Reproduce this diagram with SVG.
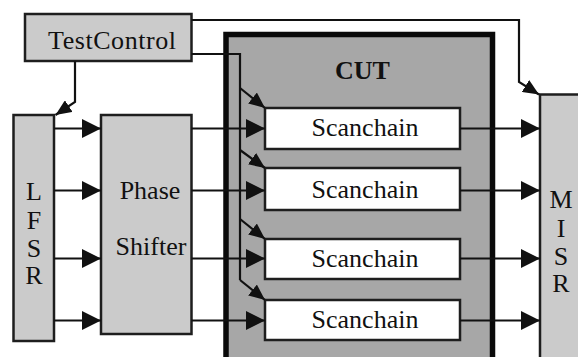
<svg xmlns="http://www.w3.org/2000/svg" width="578" height="357" viewBox="0 0 578 357">
  <defs>
    <style>
      .blk { fill: #cbcbcb; stroke: #1e1e1e; stroke-width: 2.5; }
      .chain { fill: #ffffff; stroke: #1e1e1e; stroke-width: 2.5; }
      .cut { fill: #a7a7a7; stroke: #0a0a0a; stroke-width: 5.5; }
      .lbl { font-family: "Liberation Serif", "Times New Roman", serif; font-size: 26px; fill: #111; text-anchor: middle; }
      .bold { font-weight: bold; }
      .wire { fill: none; stroke: #111; stroke-width: 2.2; }
      .big { marker-end: url(#head); }
      .small { marker-end: url(#headSmall); }
    </style>
    <marker id="head" markerUnits="userSpaceOnUse" markerWidth="19" markerHeight="19" refX="19" refY="9.5" orient="auto">
      <path d="M0,0 L19,9.5 L0,19 z" fill="#111"/>
    </marker>
    <marker id="headSmall" markerUnits="userSpaceOnUse" markerWidth="16" markerHeight="14" refX="16" refY="7" orient="auto">
      <path d="M0,0 L16,7 L0,14 z" fill="#111"/>
    </marker>
  </defs>

  <rect width="578" height="357" fill="#ffffff"/>

  <!-- circuit under test (runs off the bottom edge) -->
  <g id="cut">
    <rect class="cut" x="226" y="34.5" width="266.5" height="340"/>
    <text class="lbl bold" x="362.5" y="79">CUT</text>
  </g>

  <g id="testcontrol">
    <rect class="blk" x="25" y="14" width="166.5" height="47"/>
    <text class="lbl" x="112" y="49" textLength="128" lengthAdjust="spacing">TestControl</text>
  </g>

  <g id="lfsr">
    <rect class="blk" x="13.5" y="115" width="40.5" height="226"/>
    <text class="lbl" x="34" y="200">L</text>
    <text class="lbl" x="34" y="229">F</text>
    <text class="lbl" x="34" y="257">S</text>
    <text class="lbl" x="34" y="284">R</text>
  </g>

  <g id="phaseshifter">
    <rect class="blk" x="101" y="115" width="90.5" height="219"/>
    <text class="lbl" x="150" y="199">Phase</text>
    <text class="lbl" x="151" y="255">Shifter</text>
  </g>

  <g id="misr">
    <rect class="blk" x="540" y="94.5" width="45" height="280"/>
    <text class="lbl" x="561" y="208">M</text>
    <text class="lbl" x="561" y="237">I</text>
    <text class="lbl" x="561" y="265">S</text>
    <text class="lbl" x="561" y="292">R</text>
  </g>

  <g id="scanchain1">
    <rect class="chain" x="265" y="108" width="195" height="41"/>
    <text class="lbl" x="365" y="136">Scanchain</text>
  </g>
  <g id="scanchain2">
    <rect class="chain" x="265" y="168" width="195" height="42"/>
    <text class="lbl" x="365" y="198">Scanchain</text>
  </g>
  <g id="scanchain3">
    <rect class="chain" x="265" y="239" width="195" height="40"/>
    <text class="lbl" x="365" y="267">Scanchain</text>
  </g>
  <g id="scanchain4">
    <rect class="chain" x="265" y="300" width="195" height="40"/>
    <text class="lbl" x="365" y="328">Scanchain</text>
  </g>

  <g id="connectors">
    <!-- control to LFSR -->
    <path class="wire small" d="M75,61 V102 L55.5,115"/>
    <!-- control to MISR -->
    <path class="wire small" d="M191.5,20 H519 V82 L539,94.5"/>
    <!-- control bus into the scan chains -->
    <path class="wire" d="M191.5,54 H240 V280"/>
    <path class="wire small" d="M240,88 L265,108"/>
    <path class="wire small" d="M240,150 L265,168"/>
    <path class="wire small" d="M240,219 L265,239"/>
    <path class="wire small" d="M240,280 L265,300"/>

    <!-- LFSR to phase shifter -->
    <path class="wire big" d="M54,128.5 H101"/>
    <path class="wire big" d="M54,190.5 H101"/>
    <path class="wire big" d="M54,258.5 H101"/>
    <path class="wire big" d="M54,320.5 H101"/>

    <!-- phase shifter to scan chains -->
    <path class="wire big" d="M191.5,128.5 H265"/>
    <path class="wire big" d="M191.5,190.5 H265"/>
    <path class="wire big" d="M191.5,258.5 H265"/>
    <path class="wire big" d="M191.5,320.5 H265"/>

    <!-- scan chains to MISR -->
    <path class="wire big" d="M460,128.5 H540"/>
    <path class="wire big" d="M460,190.5 H540"/>
    <path class="wire big" d="M460,258.5 H540"/>
    <path class="wire big" d="M460,320.5 H540"/>
  </g>
</svg>
